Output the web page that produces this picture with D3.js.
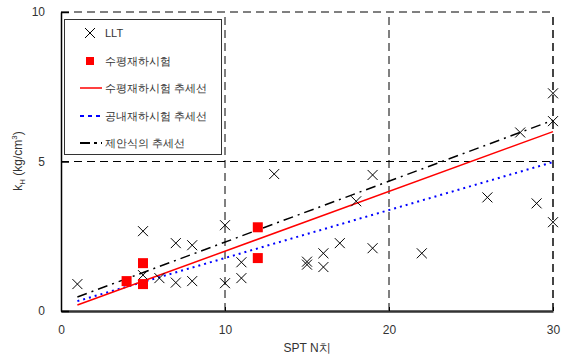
<!DOCTYPE html>
<html><head><meta charset="utf-8">
<script src="https://cdn.jsdelivr.net/npm/d3@7"></script>
<style>body{margin:0;background:#fff}svg{display:block}text{font-family:"Liberation Sans",Arial,sans-serif}</style>
</head><body><svg id="c" width="567" height="360"></svg>
<script>
const xTicks=[0,10,20,30];
const yTicks=[0,5,10];
const lltX=[1,5,5,6,7,7,8,8,10,10,11,11,13,15,15,16,16,17,18,19,19,22,26,28,29,30,30,30];
const lltY=[0.9,2.67,1.2,1.1,2.27,0.95,2.2,1.0,2.87,0.93,1.63,1.1,4.58,1.65,1.55,1.93,1.47,2.27,3.67,4.55,2.1,1.93,3.8,5.97,3.6,7.28,6.35,2.97];
const sqX=[4,5,5,12,12];
const sqY=[1.0,1.6,0.9,2.8,1.77];
const trendX=[1,30];
const redY=[0.2,6.0];
const blueY=[0.33,4.98];
const blackY=[0.47,6.38];
const legendLabels=["LLT","수평재하시험","수평재하시험 추세선","공내재하시험 추세선","제안식의 추세선"];

const svg=d3.select("#c");
const x=d3.scaleLinear().domain([0,30]).range([61,553]);
const y=d3.scaleLinear().domain([0,10]).range([311,12]);

// gridlines (dashed)
const g=svg.append("g");
[10,20,30].forEach(v=>g.append("line").attr("x1",x(v)).attr("x2",x(v)).attr("y1",y(0)).attr("y2",y(10))
  .attr("stroke",v===30?"#444":"#000").attr("stroke-width",v===30?2:1).attr("stroke-dasharray","8,5"));
[5,10].forEach(v=>g.append("line").attr("x1",x(0)).attr("x2",x(30)).attr("y1",y(v)).attr("y2",y(v))
  .attr("stroke","#000").attr("stroke-width",1).attr("stroke-dasharray","8,5"));

// axes
const xa=svg.append("g").attr("transform",`translate(0,${y(0)})`)
  .call(d3.axisBottom(x).tickValues(xTicks).tickSize(-4).tickPadding(14).tickSizeOuter(0));
xa.select(".domain").attr("stroke","#333").attr("stroke-width",2.5);
xa.selectAll("text").attr("font-size",12).attr("fill","#333");
const ya=svg.append("g").attr("transform",`translate(${x(0)},0)`)
  .call(d3.axisLeft(y).tickValues(yTicks).tickSize(-8).tickPadding(16).tickSizeOuter(0));
ya.select(".domain").attr("stroke","#000").attr("stroke-width",1.5);
ya.selectAll(".tick line").attr("stroke","#000").attr("stroke-width",1.5);
ya.selectAll("text").attr("font-size",12).attr("fill","#333");

// trend lines
const line=d3.line().x(d=>x(d[0])).y(d=>y(d[1]));
const lines=[
  {ys:blueY,color:"#0000ff",dash:"2,4",w:2},
  {ys:redY,color:"#ff0000",dash:null,w:1.5},
  {ys:blackY,color:"#000",dash:"10,5,2,5",w:1.5}
];
lines.forEach(l=>svg.append("path").datum(trendX.map((v,i)=>[v,l.ys[i]])).attr("d",line)
  .attr("fill","none").attr("stroke",l.color).attr("stroke-width",l.w).attr("stroke-dasharray",l.dash));

// markers
function cross(sel,cx,cy,s){
  sel.append("path").attr("d",`M${cx-s},${cy-s}L${cx+s},${cy+s}M${cx-s},${cy+s}L${cx+s},${cy-s}`)
   .attr("stroke","#000").attr("stroke-width",1).attr("fill","none");
}
lltX.forEach((v,i)=>cross(svg,x(v),y(lltY[i]),5));
sqX.forEach((v,i)=>svg.append("rect").attr("x",x(v)-5).attr("y",y(sqY[i])-5).attr("width",10).attr("height",10).attr("fill","#ff0000"));

// legend
const lg=svg.append("g");
lg.append("rect").attr("x",64.5).attr("y",19.5).attr("width",157).attr("height",135).attr("fill","#fff").attr("stroke","#333").attr("stroke-width",1);
const ly=[33,61,88,116,143];
cross(lg,90,ly[0],5);
lg.append("rect").attr("x",86).attr("y",ly[1]-4).attr("width",8).attr("height",8).attr("fill","#ff0000");
lg.append("line").attr("x1",80).attr("x2",102).attr("y1",ly[2]).attr("y2",ly[2]).attr("stroke","#ff0000").attr("stroke-width",1.5);
lg.append("line").attr("x1",80).attr("x2",102).attr("y1",ly[3]).attr("y2",ly[3]).attr("stroke","#0000ff").attr("stroke-width",2).attr("stroke-dasharray","4,4");
lg.append("line").attr("x1",80).attr("x2",102).attr("y1",ly[4]).attr("y2",ly[4]).attr("stroke","#000").attr("stroke-width",2).attr("stroke-dasharray","10,4,3,4");
legendLabels.forEach((t,i)=>lg.append("text").attr("x",105).attr("y",ly[i]+4).text(t)
  .attr("font-family","'Noto Sans CJK KR',sans-serif").attr("font-size",11).attr("fill","#333"));

// axis titles
svg.append("text").attr("x",x(15)).attr("y",352).attr("text-anchor","middle").attr("font-size",12).attr("fill","#333")
  .attr("font-family","'Liberation Sans','Noto Sans CJK KR',sans-serif").text("SPT N치");
const yt=svg.append("text").attr("transform","translate(22,161) rotate(-90)").attr("text-anchor","middle").attr("font-size",12).attr("fill","#333");
yt.append("tspan").text("k");
yt.append("tspan").attr("font-size",8).attr("dy",3).text("H");
yt.append("tspan").attr("dy",-3).text(" (kg/cm");
yt.append("tspan").attr("font-size",8).attr("dy",-5).text("3");
yt.append("tspan").attr("dy",5).text(")");
</script></body></html>
